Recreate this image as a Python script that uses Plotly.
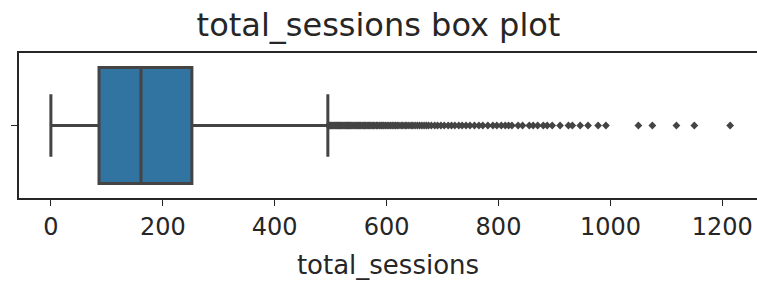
import plotly.graph_objects as go

# Box statistics for total_sessions
q1 = [86]
median = [161]
q3 = [252]
lower_fence = [0]
upper_fence = [495]

# Outlier values (beyond upper whisker)
outliers = [496, 498, 500, 502, 504, 506, 508, 510, 512, 514, 516, 518, 520, 522, 524,
            526, 528, 530, 532, 534, 536, 538, 540, 542, 545, 547, 549, 551, 553, 556,
            558, 560, 562, 565, 567, 569, 572, 574, 577, 579, 582, 584, 587, 590, 592,
            595, 598, 601, 604, 607, 610, 613, 616, 619, 622, 626, 629, 633, 636, 640,
            644, 647, 651, 655, 659, 663, 667, 671, 675, 680, 686, 691, 697, 703, 710,
            716, 722, 729, 735, 742, 749, 757, 765, 772, 781, 790, 797, 805, 812, 818,
            824, 835, 843, 855, 862, 870, 880, 887, 896, 910, 925, 932, 946, 960, 978,
            992, 1050, 1075, 1118, 1150, 1214]

x_ticks = [0, 200, 400, 600, 800, 1000, 1200]
x_tick_labels = ["0", "200", "400", "600", "800", "1000", "1200"]

title_text = "total_sessions box plot"
x_label = "total_sessions"

FONT = "DejaVu Sans"
LINE = "#444444"
FILL = "#3274a1"
TXT = "#262626"

fig = go.Figure()
fig.add_trace(go.Box(
    orientation="h",
    y=[0],
    q1=q1, median=median, q3=q3,
    lowerfence=lower_fence, upperfence=upper_fence,
    width=0.8,
    whiskerwidth=0.54,
    fillcolor=FILL,
    line=dict(color=LINE, width=3),
    boxpoints=False,
    hoverinfo="skip",
    showlegend=False,
))
fig.add_trace(go.Scatter(
    x=outliers,
    y=[0] * len(outliers),
    mode="markers",
    marker=dict(symbol="diamond", size=6, color=LINE, line=dict(width=0)),
    showlegend=False,
    hoverinfo="skip",
))

fig.update_layout(
    width=757, height=285,
    margin=dict(l=19, r=0, t=53, b=87),
    paper_bgcolor="white",
    plot_bgcolor="white",
    font=dict(family=FONT, color=TXT, size=24),
    title=dict(text=title_text, x=0.5, xanchor="center", y=0.912, yanchor="middle",
               font=dict(family=FONT, size=32, color=TXT)),
    xaxis=dict(
        range=[-57, 1262],
        automargin=False,
        tickvals=x_ticks, ticktext=x_tick_labels,
        ticks="outside", ticklen=6, tickwidth=1.3, tickcolor=TXT,
        showline=True, linecolor=TXT, linewidth=1.5, mirror=True,
        showgrid=False, zeroline=False,
        tickfont=dict(family=FONT, size=24, color=TXT),
        title=dict(text=x_label, font=dict(family=FONT, size=26, color=TXT), standoff=16),
    ),
    yaxis=dict(
        range=[-0.5, 0.5],
        automargin=False,
        tickvals=[0], ticktext=[""],
        ticks="outside", ticklen=6, tickwidth=1.3, tickcolor=TXT,
        showline=True, linecolor=TXT, linewidth=1.5, mirror=False,
        showgrid=False, zeroline=False,
    ),
)

fig.write_html("out.html", config={"displayModeBar": False},
               post_script="document.body.style.margin='0';")
